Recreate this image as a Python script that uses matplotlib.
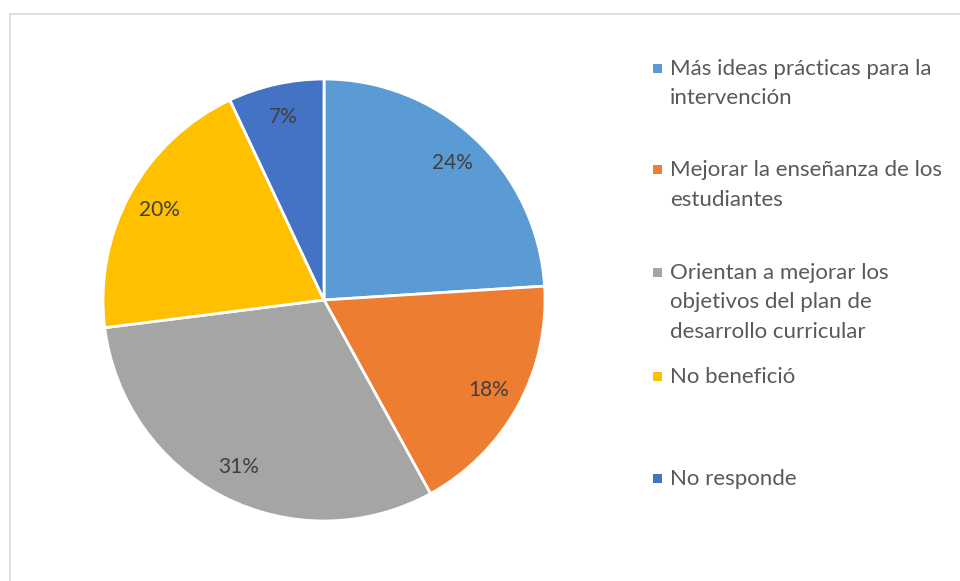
import matplotlib
matplotlib.use("Agg")
import matplotlib.pyplot as plt
from matplotlib.patches import Rectangle

categories = [
    "Más ideas prácticas para la\nintervención",
    "Mejorar la enseñanza de los\nestudiantes",
    "Orientan a mejorar los\nobjetivos del plan de\ndesarrollo curricular",
    "No benefició",
    "No responde",
]
values = [24, 18, 31, 20, 7]
colors = ["#5B9BD5", "#ED7D31", "#A5A5A5", "#FFC000", "#4472C4"]

plt.rcParams["font.family"] = ["Lato", "DejaVu Sans"]

W, H = 960, 581
fig = plt.figure(figsize=(W / 100, H / 100), dpi=100)

# chart frame (only left and top edges fall inside the canvas)
fig.patches.append(Rectangle((10 / W, -0.1), 1.2, (H - 14) / H + 0.1,
                             transform=fig.transFigure, fill=False,
                             edgecolor="#D9D9D9", linewidth=1.2))

cx, cy, r = 324, 300, 221
ax = fig.add_axes([(cx - r) / W, (H - cy - r) / H, 2 * r / W, 2 * r / H])
wedges, _, autotexts = ax.pie(
    values, colors=colors, startangle=90, counterclock=False,
    autopct=lambda p: f"{p:.0f}%", pctdistance=0.85,
    wedgeprops=dict(edgecolor="white", linewidth=2),
    textprops=dict(color="#404040", fontsize=15),
)
ax.set_xlim(-1, 1)
ax.set_ylim(-1, 1)
ax.set_aspect("equal")
ax.axis("off")

# legend entries, one text line at a time
first_line_y = [68, 169, 272, 376, 478]
pitch = 29.5
for label, color, y in zip(categories, colors, first_line_y):
    fig.patches.append(Rectangle((653 / W, (H - y - 4.5) / H), 9 / W, 9 / H,
                                 transform=fig.transFigure,
                                 facecolor=color, edgecolor="none"))
    for i, line in enumerate(label.split("\n")):
        yy = y + i * pitch
        fig.text(670 / W, (H - yy - 7) / H, line, ha="left", va="baseline",
                 fontsize=16, color="#595959")

fig.savefig("out.png", dpi=100)
